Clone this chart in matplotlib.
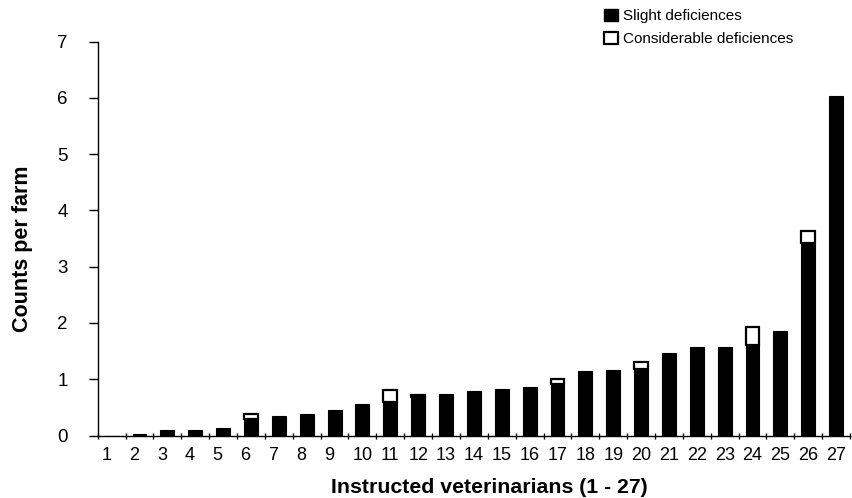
import matplotlib.pyplot as plt
import matplotlib.transforms as mtransforms
import numpy as np
from matplotlib.patches import Patch

plt.rcParams['font.family'] = ['Liberation Sans', 'DejaVu Sans']

# values
vets = list(range(1, 28))
slight = [0.0, 0.02, 0.10, 0.10, 0.13, 0.29, 0.35, 0.39, 0.45, 0.56,
          0.59, 0.69, 0.74, 0.79, 0.83, 0.86, 0.91, 1.15, 1.16, 1.19,
          1.47, 1.58, 1.58, 1.60, 1.86, 3.43, 6.04]
considerable = [0.0, 0.0, 0.0, 0.0, 0.0, 0.10, 0.0, 0.0, 0.0, 0.0,
                0.21, 0.03, 0.0, 0.0, 0.0, 0.0, 0.10, 0.0, 0.0, 0.11,
                0.0, 0.0, 0.0, 0.33, 0.0, 0.21, 0.0]
yticks = [0, 1, 2, 3, 4, 5, 6, 7]

fig = plt.figure(figsize=(8.52, 4.98), dpi=100)
ax = fig.add_axes([0.1147, 0.1255, 0.883, 0.7908])

x = np.array(vets)
ax.bar(x, slight, width=0.5, color='black', edgecolor='black', linewidth=0.8)
cons = np.array(considerable)
mask = cons > 0
ax.bar(x[mask], cons[mask], width=0.5, bottom=np.array(slight)[mask],
       color='white', edgecolor='black', linewidth=1.6)

ax.set_xlim(0.5, 27.5)
ax.set_ylim(0, 7)
ax.set_yticks(yticks)
ax.set_xticks(x)
ax.set_xticks(np.arange(0.5, 28, 1), minor=True)
ax.tick_params(axis='x', which='major', length=0, labelsize=13, pad=8)
ax.tick_params(axis='x', which='minor', direction='inout', length=5, width=1)
ax.tick_params(axis='y', direction='out', length=6.5, width=1, labelsize=13.5, pad=15)

# single-digit labels sit a little left of their bars in the original
shift = mtransforms.ScaledTranslation(-5.5 / 100, 0, fig.dpi_scale_trans)
for v, lab in zip(vets, ax.get_xticklabels()):
    if v < 10:
        lab.set_transform(lab.get_transform() + shift)

for side in ['top', 'right']:
    ax.spines[side].set_visible(False)
ax.spines['left'].set_linewidth(1)
ax.spines['bottom'].set_linewidth(1)

# axis titles placed like in the original (not centred on the axes)
fig.text(23 / 852, 0.5, 'Counts per farm', rotation=90, ha='center', va='center',
         fontsize=15.5, fontweight='bold')
fig.text(489 / 852, 5 / 498, 'Instructed veterinarians (1 - 27)', ha='center',
         va='baseline', fontsize=15.3, fontweight='bold')

handles = [Patch(facecolor='black', edgecolor='black', label='Slight deficiences'),
           Patch(facecolor='white', edgecolor='black', linewidth=1.6, label='Considerable deficiences')]
fig.legend(handles=handles, loc='upper left', bbox_to_anchor=(0.702, 0.995),
           frameon=False, fontsize=11, handlelength=0.9, handleheight=0.9,
           handletextpad=0.3, labelspacing=0.55, borderaxespad=0)

fig.savefig('out.png', dpi=100)
